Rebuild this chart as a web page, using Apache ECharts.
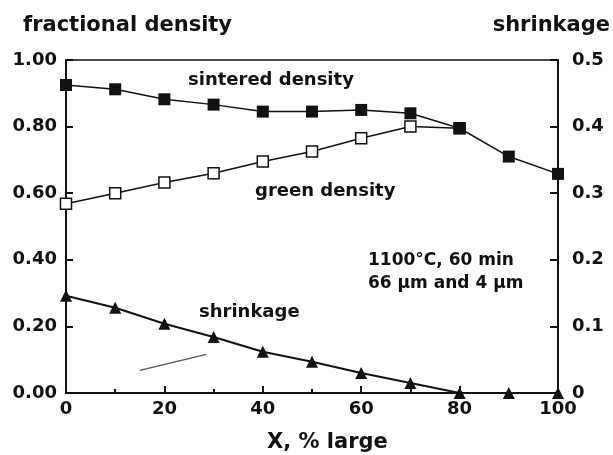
<!DOCTYPE html>
<html><head><meta charset="utf-8">
<script src="https://cdn.jsdelivr.net/npm/echarts@6/dist/echarts.min.js"></script>
<style>html,body{margin:0;padding:0;background:#fff}#c{width:613px;height:455px}</style>
</head><body><div id="c"></div>
<script>
var xLarge = [0, 10, 20, 30, 40, 50, 60, 70, 80, 90, 100];
var sinteredDensity = [0.925, 0.912, 0.882, 0.866, 0.845, 0.845, 0.850, 0.840, 0.795, 0.710, 0.658];
var greenX = [0, 10, 20, 30, 40, 50, 60, 70, 80];
var greenDensity = [0.568, 0.600, 0.632, 0.660, 0.695, 0.725, 0.765, 0.800, 0.795];
var shrinkage = [0.146, 0.128, 0.104, 0.084, 0.062, 0.047, 0.030, 0.015, 0.0, 0.0, 0.0];
var leftTicks = ['0.00', '0.20', '0.40', '0.60', '0.80', '1.00'];
var rightTicks = ['0', '0.1', '0.2', '0.3', '0.4', '0.5'];

function pairs(xs, ys) { return xs.map(function (x, i) { return [x, ys[i]]; }); }

var F = '"DejaVu Sans", Verdana, sans-serif';
var chart = echarts.init(document.getElementById('c'));
chart.setOption({
  backgroundColor: '#fff',
  animation: false,
  grid: { left: 66, right: 55, top: 60, bottom: 62, show: true, borderColor: '#111', borderWidth: 1.5, backgroundColor: 'transparent' },
  xAxis: {
    type: 'value', min: 0, max: 100, interval: 20,
    axisLine: { lineStyle: { color: '#111', width: 2 } },
    axisTick: { inside: true, length: 7, lineStyle: { color: '#111', width: 2 } },
    minorTick: { show: true, splitNumber: 2, length: 4, lineStyle: { color: '#111', width: 2 } },
    splitLine: { show: false },
    axisLabel: { color: '#111', fontFamily: F, fontWeight: 'bold', fontSize: 18, margin: 7 }
  },
  yAxis: [{
    type: 'value', min: 0, max: 1, interval: 0.2,
    axisLine: { show: true, lineStyle: { color: '#111', width: 2 } },
    axisTick: { show: true, inside: true, length: 7, lineStyle: { color: '#111', width: 2 } },
    splitLine: { show: false },
    axisLabel: { color: '#111', fontFamily: F, fontWeight: 'bold', fontSize: 18, margin: 9,
      formatter: function (v) { return leftTicks[Math.round(v / 0.2)]; } }
  }, {
    type: 'value', min: 0, max: 0.5, interval: 0.1, position: 'right',
    axisLine: { show: true, lineStyle: { color: '#111', width: 2 } },
    axisTick: { show: true, inside: true, length: 8, lineStyle: { color: '#111', width: 2 } },
    splitLine: { show: false },
    axisLabel: { color: '#111', fontFamily: F, fontWeight: 'bold', fontSize: 18, margin: 14,
      formatter: function (v) { return rightTicks[Math.round(v / 0.1)]; } }
  }],
  series: [{
    type: 'line', name: 'sintered density', data: pairs(xLarge, sinteredDensity),
    symbol: 'rect', symbolSize: 12, z: 3,
    lineStyle: { color: '#111', width: 1.5 }, itemStyle: { color: '#111' }
  }, {
    type: 'line', name: 'green density', data: pairs(greenX, greenDensity),
    symbol: 'rect', symbolSize: 11, z: 2,
    lineStyle: { color: '#111', width: 1.5 }, itemStyle: { color: '#fff', borderColor: '#111', borderWidth: 1.5 }
  }, {
    type: 'line', name: 'shrinkage', yAxisIndex: 1, data: pairs(xLarge, shrinkage),
    symbol: 'triangle', symbolSize: 12, z: 3,
    lineStyle: { color: '#111', width: 2 }, itemStyle: { color: '#111' },
    markLine: { silent: true, symbol: 'none', label: { show: false },
      lineStyle: { color: '#555', width: 1.2, type: 'solid' },
      data: [[{ coord: [15, 0.034] }, { coord: [28.5, 0.058] }]] }
  }],
  graphic: [
    { type: 'text', left: 23, top: 15, style: { text: 'fractional density', font: 'bold 21px ' + F, fill: '#111' } },
    { type: 'text', right: 3, top: 15, style: { text: 'shrinkage', font: 'bold 21px ' + F, fill: '#111' } },
    { type: 'text', left: 267, top: 432, style: { text: 'X, % large', font: 'bold 21px ' + F, fill: '#111' } },
    { type: 'text', left: 188, top: 71, style: { text: 'sintered density', font: 'bold 18px ' + F, fill: '#111' } },
    { type: 'text', left: 255, top: 182, style: { text: 'green density', font: 'bold 18px ' + F, fill: '#111' } },
    { type: 'text', left: 199, top: 303, style: { text: 'shrinkage', font: 'bold 18px ' + F, fill: '#111' } },
    { type: 'text', left: 368, top: 252, style: { text: '1100°C, 60 min', font: 'bold 17px ' + F, fill: '#111' } },
    { type: 'text', left: 368, top: 275, style: { text: '66 µm and 4 µm', font: 'bold 17px ' + F, fill: '#111' } }
  ]
});
</script></body></html>
